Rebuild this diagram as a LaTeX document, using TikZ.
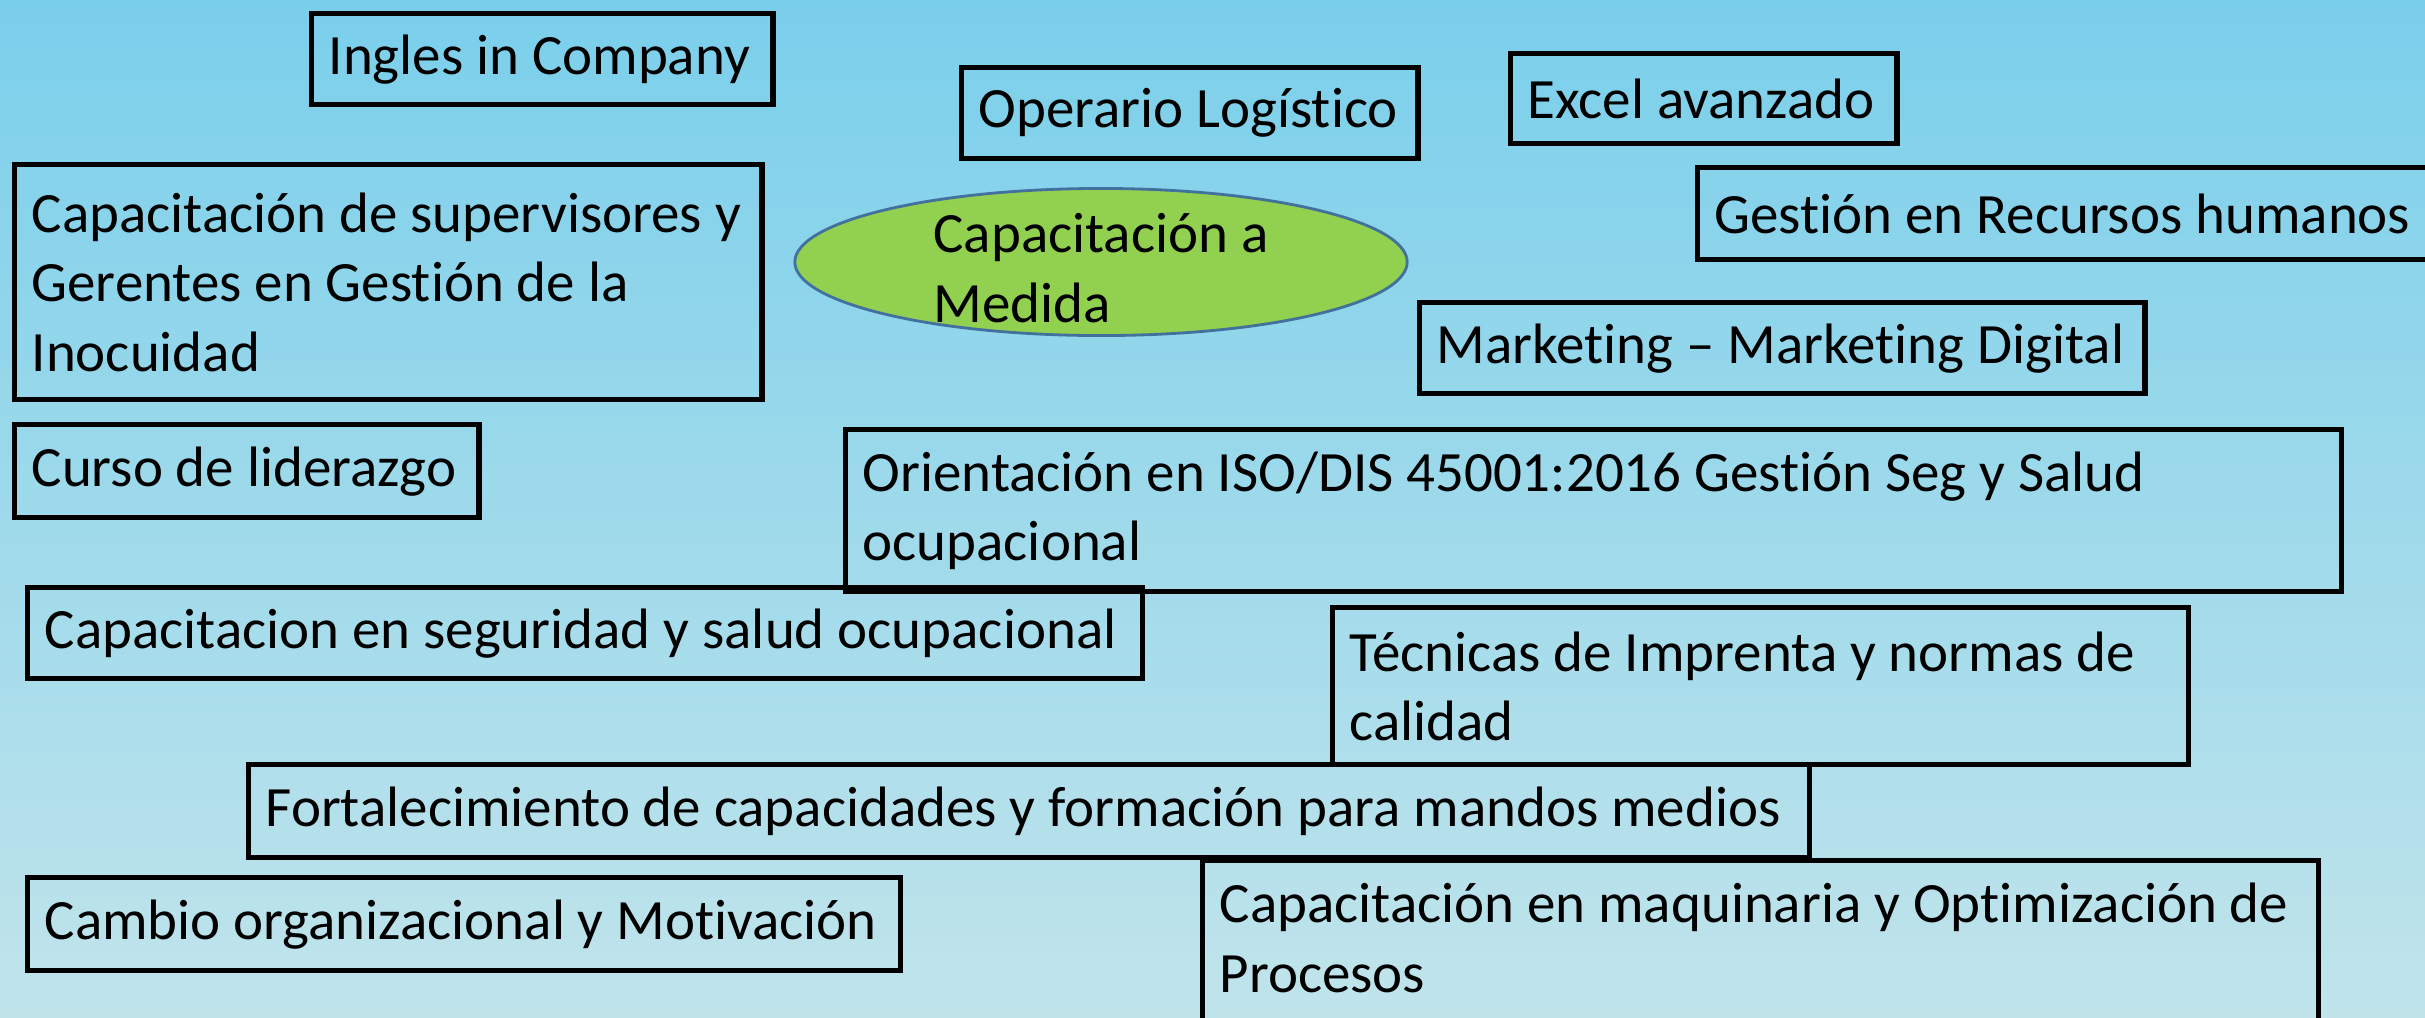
\documentclass[tikz,border=0pt]{standalone}
\usepackage{fontspec}
\setmainfont{Carlito}[Ligatures={NoCommon}]
\usetikzlibrary{shapes.geometric}
\definecolor{skytop}{RGB}{122,207,235}
\definecolor{skybot}{RGB}{193,228,235}
\definecolor{leaf}{RGB}{146,208,80}
\definecolor{rim}{RGB}{65,113,156}

\begin{document}
\begin{tikzpicture}
[x=0.01cm,y=-0.01cm,
 box/.style={draw=black,line width=1.5pt,anchor=north west,align=flush left,
   inner xsep=0.17cm,inner ysep=0pt,font=\fontsize{16.2}{19.75}\selectfont},
 goal/.style={ellipse,draw=rim,line width=0.8pt,fill=leaf,inner sep=0pt}]

\useasboundingbox (0,0) rectangle (2425,1017);
\shade[top color=skytop,bottom color=skybot] (0,0) rectangle (2425,1017);

% centro
\node[goal, minimum width=6.12cm, minimum height=1.47cm] (cm) at (1101,262) {};
\node[align=flush left, inner sep=0pt, font=\fontsize{16.2}{19.75}\selectfont] (cmt) at ([yshift=-0.06cm]cm.center) {Capacitación a\\Medida};

% arriba
\node[box, text width=4.27cm, minimum height=0.91cm] (ing) at (309,11) {Ingles in Company};
\node[box, text width=4.22cm, minimum height=0.91cm] (ope) at (959,65) {Operario Logístico};
\node[box, text width=3.52cm, minimum height=0.90cm] (exc) at (1508,51) {Excel avanzado};
\node[box, text width=7.21cm, minimum height=0.92cm] (rrhh) at (1695,165) {Gestión en Recursos humanos};
\node[box, text width=7.13cm, minimum height=2.35cm] (sup) at (12,162) {Capacitación de supervisores y\\Gerentes en Gestión de la\\Inocuidad};
\node[box, text width=6.91cm, minimum height=0.91cm] (mkt) at (1417,300) {Marketing – Marketing Digital};

% medio
\node[box, text width=4.30cm, minimum height=0.93cm] (lid) at (12,422) {Curso de liderazgo};
\node[box, text width=14.61cm, minimum height=1.62cm] (iso) at (843,427) {Orientación en ISO/DIS 45001:2016 Gestión Seg y Salud\\ocupacional};
\node[box, text width=10.80cm, minimum height=0.91cm] (seg) at (25,585) {Capacitacion en seguridad y salud ocupacional};
\node[box, text width=8.21cm, minimum height=1.57cm] (tec) at (1330,605) {Técnicas de Imprenta y normas de\\calidad};

% abajo
\node[box, text width=15.26cm, minimum height=0.93cm] (fort) at (246,762) {Fortalecimiento de capacidades y formación para mandos medios};
\node[box, text width=8.38cm, minimum height=0.93cm] (cam) at (25,875) {Cambio organizacional y Motivación};
\node[box, text width=10.81cm, minimum height=1.70cm] (maq) at (1200,858) {Capacitación en maquinaria y Optimización de\\Procesos\rule[-0.16cm]{0pt}{0pt}};
\end{tikzpicture}
\end{document}
